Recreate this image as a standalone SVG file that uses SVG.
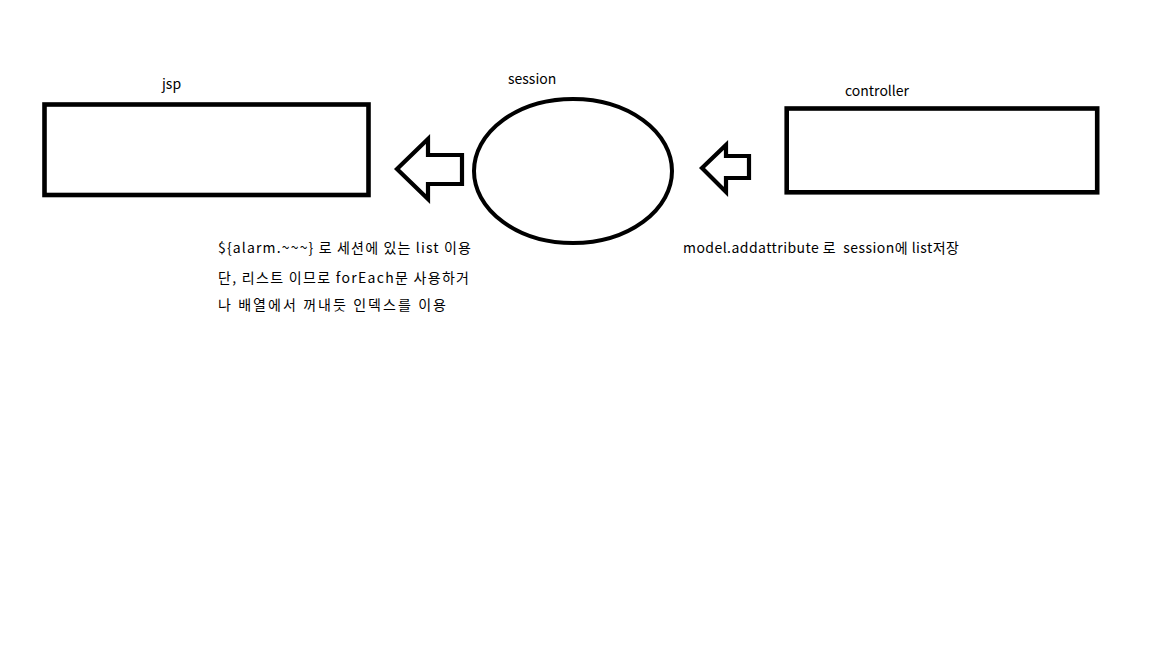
<svg xmlns="http://www.w3.org/2000/svg" width="1152" height="648" viewBox="0 0 1152 648">
<style>
.box{fill:none;stroke:#000;stroke-width:4.6}
.arr{fill:none;stroke:#000;stroke-width:4.2;stroke-linejoin:miter}
text{font-family:"Noto Sans CJK KR","Noto Sans",sans-serif;font-size:14px;fill:#000;white-space:pre}
</style>
<rect width="1152" height="648" fill="#fff"/>
<g id="jsp">
<rect class="box" x="44.5" y="104.5" width="324" height="90.5"/>
<text x="162" y="89">jsp</text>
</g>
<g id="session">
<ellipse class="box" cx="573" cy="171" rx="99" ry="72" style="stroke-width:4"/>
<text x="508" y="84">session</text>
</g>
<g id="controller">
<rect class="box" x="786.7" y="108.5" width="310.5" height="83.8"/>
<text x="845" y="96">controller</text>
</g>
<g id="connectors">
<polygon class="arr" points="397,169 428,139 428,155 462,155 462,184 428,184 428,199"/>
<polygon class="arr" points="702,168 726,145 726,156 749,156 749,178 726,178 726,192"/>
</g>
<g id="notes">
<text x="218" y="253" textLength="253" lengthAdjust="spacing">${alarm.~~~} 로 세션에 있는 list 이용</text>
<text x="218" y="283" textLength="251" lengthAdjust="spacing">단, 리스트 이므로 forEach문 사용하거</text>
<text x="218" y="310" textLength="228" lengthAdjust="spacing">나 배열에서 꺼내듯 인덱스를 이용</text>
<text x="683" y="253" textLength="276" lengthAdjust="spacing" xml:space="preserve">model.addattribute 로  session에 list저장</text>
</g>
</svg>
